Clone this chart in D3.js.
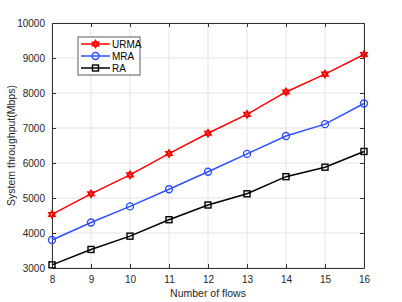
<!DOCTYPE html>
<html>
<head>
<meta charset="utf-8">
<script src="https://cdn.jsdelivr.net/npm/d3@7"></script>
<style>
  body { margin: 0; background: #fff; }
  text { font-family: "Liberation Sans", Arial, sans-serif; }
</style>
</head>
<body>
<div id="chart"></div>
<script>
// data
var flows = [8, 9, 10, 11, 12, 13, 14, 15, 16];
var urma = [4530, 5120, 5660, 6270, 6850, 7390, 8030, 8540, 9100];
var mra = [3800, 4300, 4760, 5250, 5750, 6260, 6770, 7110, 7700];
var ra = [3090, 3530, 3910, 4380, 4800, 5120, 5610, 5880, 6330];
var yTicks = [3000, 4000, 5000, 6000, 7000, 8000, 9000, 10000];

var series = [
    { name: "URMA", values: urma, color: "#ff0000", marker: "star" },
    { name: "MRA", values: mra, color: "#3050ff", marker: "circle" },
    { name: "RA", values: ra, color: "#000000", marker: "square" }
];

var margin = { top: 23, right: 38, bottom: 34, left: 52 },
    width = 402 - margin.left - margin.right,
    height = 302 - margin.top - margin.bottom;

var svg = d3.select("#chart").append("svg")
    .attr("width", 402)
    .attr("height", 302);

var g = svg.append("g")
    .attr("transform", "translate(" + margin.left + "," + margin.top + ")");

var x = d3.scaleLinear().domain([8, 16]).range([0, width]);
var y = d3.scaleLinear().domain([3000, 10000]).range([height, 0]);

// grid
g.append("g").selectAll("line").data(flows).enter().append("line")
    .attr("x1", d => x(d)).attr("x2", d => x(d))
    .attr("y1", 0).attr("y2", height)
    .attr("stroke", "#e3e3e3").attr("stroke-width", 1);
g.append("g").selectAll("line").data(yTicks).enter().append("line")
    .attr("x1", 0).attr("x2", width)
    .attr("y1", d => y(d)).attr("y2", d => y(d))
    .attr("stroke", "#e3e3e3").attr("stroke-width", 1);

// axes (ticks pointing in, box on)
function styleAxis(sel) {
    sel.select(".domain").attr("stroke", "#333");
    sel.selectAll(".tick line").attr("stroke", "#333");
    sel.selectAll(".tick text").attr("fill", "#262626")
        .style("font-size", "10px").style("font-family", "Liberation Sans, Arial, sans-serif");
}
g.append("g").attr("transform", "translate(0," + height + ")")
    .call(d3.axisBottom(x).tickValues(flows).tickFormat(d3.format("d")).tickSizeInner(-4).tickSizeOuter(0).tickPadding(8))
    .call(styleAxis);
g.append("g")
    .call(d3.axisLeft(y).tickValues(yTicks).tickFormat(d3.format("d")).tickSizeInner(-4).tickSizeOuter(0).tickPadding(7))
    .call(styleAxis);
g.append("g")
    .call(d3.axisTop(x).tickValues(flows).tickSizeInner(-4).tickSizeOuter(0).tickFormat(""))
    .call(styleAxis);
g.append("g").attr("transform", "translate(" + width + ",0)")
    .call(d3.axisRight(y).tickValues(yTicks).tickSizeInner(-4).tickSizeOuter(0).tickFormat(""))
    .call(styleAxis);

// axis labels
svg.append("text")
    .attr("x", margin.left + width / 2)
    .attr("y", 297)
    .attr("text-anchor", "middle")
    .attr("fill", "#262626")
    .style("font-size", "10.5px")
    .text("Number of flows");
svg.append("text")
    .attr("transform", "translate(15," + (margin.top + height / 2) + ") rotate(-90)")
    .attr("text-anchor", "middle")
    .attr("fill", "#262626")
    .style("font-size", "10.5px")
    .text("System throughput(Mbps)");

// marker drawing
function drawMarker(sel, type, color) {
    if (type === "circle") {
        sel.append("circle").attr("r", 3.5)
            .attr("fill", "none").attr("stroke", color).attr("stroke-width", 1.4);
    } else if (type === "square") {
        sel.append("rect").attr("x", -3).attr("y", -3).attr("width", 6).attr("height", 6)
            .attr("fill", "none").attr("stroke", color).attr("stroke-width", 1.4);
    } else {
        sel.append("path")
            .attr("d", d3.symbol().type(d3.symbolTriangle).size(18))
            .attr("fill", "none").attr("stroke", color).attr("stroke-width", 1.4);
        sel.append("path")
            .attr("d", d3.symbol().type(d3.symbolTriangle).size(18))
            .attr("transform", "rotate(180)")
            .attr("fill", "none").attr("stroke", color).attr("stroke-width", 1.4);
    }
}

var line = d3.line()
    .x((d, i) => x(flows[i]))
    .y(d => y(d));

series.forEach(function (s) {
    g.append("path")
        .datum(s.values)
        .attr("fill", "none")
        .attr("stroke", s.color)
        .attr("stroke-width", 1.5)
        .attr("d", line);
    g.selectAll(null).data(s.values).enter().append("g")
        .attr("transform", (d, i) => "translate(" + x(flows[i]) + "," + y(d) + ")")
        .each(function () { drawMarker(d3.select(this), s.marker, s.color); });
});

// legend
var legend = svg.append("g").attr("transform", "translate(78,37)");
legend.append("rect")
    .attr("width", 62).attr("height", 38)
    .attr("fill", "#fff").attr("stroke", "#333").attr("stroke-width", 0.8);
series.forEach(function (s, i) {
    var ly = 7 + i * 12;
    legend.append("line")
        .attr("x1", 3).attr("x2", 32).attr("y1", ly).attr("y2", ly)
        .attr("stroke", s.color).attr("stroke-width", 1.5);
    var m = legend.append("g").attr("transform", "translate(17.5," + ly + ")");
    drawMarker(m, s.marker, s.color);
    legend.append("text")
        .attr("x", 34).attr("y", ly + 3.5)
        .attr("fill", "#000")
        .style("font-size", "10px")
        .text(s.name);
});
</script>
</body>
</html>
